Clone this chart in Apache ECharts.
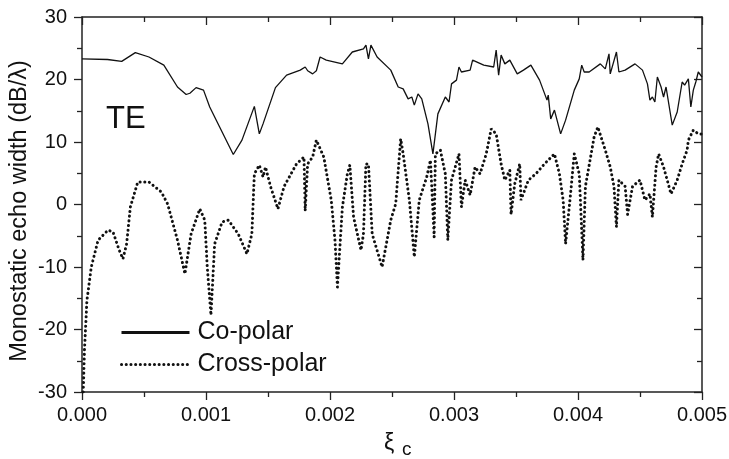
<!DOCTYPE html>
<html><head><meta charset="utf-8">
<script src="https://cdn.jsdelivr.net/npm/echarts@6/dist/echarts.min.js"></script>
<style>html,body{margin:0;padding:0;background:#fff}#c{width:729px;height:459px}</style>
</head><body><div id="c"></div>
<script>
const coX = [0,0.000206,0.00032,0.00043,0.00054,0.00066,0.00077,0.00084,0.00087,0.00092,0.00098,0.00103,0.00111,0.00122,0.00129,0.00139,0.00143,0.00146,0.00156,0.00165,0.00176,0.0018,0.00182,0.00186,0.00189,0.00192,0.00197,0.0021,0.00218,0.00227,0.00229,0.00231,0.00233,0.00238,0.00249,0.00255,0.00259,0.00263,0.00266,0.00268,0.00271,0.00274,0.00279,0.00283,0.00287,0.00293,0.00296,0.00298,0.00302,0.00304,0.00306,0.00313,0.00315,0.00324,0.00332,0.00334,0.00336,0.00338,0.00341,0.00345,0.00351,0.00356,0.00362,0.00369,0.00375,0.00376,0.00378,0.00381,0.00386,0.0039,0.00397,0.00401,0.00403,0.00405,0.00409,0.00418,0.00422,0.00425,0.00426,0.00431,0.00433,0.00438,0.00446,0.00452,0.00456,0.00458,0.0046,0.00462,0.00464,0.00467,0.00469,0.00471,0.00476,0.0048,0.00484,0.00486,0.00489,0.00491,0.00493,0.00495,0.00497,0.005];
const coY = [23.3,23.2,22.9,24.3,23.6,22.3,18.8,17.6,17.8,18.7,18.3,15.6,12.4,8.0,10.3,15.7,11.3,12.9,18.7,20.7,21.5,22.0,21.4,20.9,21.4,23.6,23.1,22.5,24.4,24.9,25.5,23.3,25.5,23.6,21.5,18.8,18.5,16.9,17.2,15.9,17.7,16.9,12.9,8.1,14.5,17.2,16.4,19.3,19.9,22.0,21.2,21.5,23.1,22.3,22.0,24.7,20.7,23.9,22.5,23.1,20.9,21.5,22.3,19.9,16.7,17.5,13.7,15.1,11.3,13.5,18.3,20.1,22.3,21.2,21.2,22.5,21.7,24.1,20.9,24.4,21.2,21.5,22.5,21.5,19.3,16.7,17.2,16.4,20.4,18.8,17.2,18.8,12.7,14.8,19.6,19.1,20.1,15.6,18.3,19.6,21.2,20.4];
const crX = [0.00001,0.00002,0.00004,0.000075,0.00013,0.00021,0.00025,0.0003,0.00033,0.00036,0.00039,0.00045,0.00054,0.00064,0.00069,0.00077,0.00083,0.00088,0.00095,0.00099,0.00101,0.00104,0.00107,0.00113,0.00118,0.00126,0.00133,0.00137,0.00139,0.00143,0.00146,0.00148,0.00152,0.00158,0.00163,0.00173,0.00179,0.0018,0.00182,0.00186,0.00189,0.00195,0.00201,0.00204,0.00206,0.0021,0.00214,0.00216,0.00219,0.00225,0.00227,0.00229,0.00231,0.00234,0.00242,0.00249,0.00253,0.00257,0.00259,0.00264,0.00268,0.00272,0.00278,0.00281,0.00284,0.00285,0.00289,0.00293,0.00295,0.00298,0.00304,0.00306,0.00309,0.00313,0.00317,0.00321,0.00326,0.0033,0.00334,0.00338,0.00341,0.00345,0.00346,0.00349,0.00353,0.00354,0.0036,0.00366,0.00373,0.00381,0.00385,0.00388,0.0039,0.00394,0.00397,0.00401,0.00404,0.00406,0.00413,0.00416,0.00422,0.00426,0.00429,0.00431,0.00433,0.00438,0.0044,0.00444,0.0045,0.00454,0.00458,0.0046,0.00463,0.00465,0.00469,0.00475,0.0048,0.00484,0.00488,0.00489,0.00493,0.00497,0.005];
const crY = [-30,-23.3,-15.3,-10,-5.7,-4.1,-4.4,-7.3,-8.7,-6.3,-0.4,3.6,3.6,2,0.1,-5.7,-11.1,-4.7,-0.7,-2.5,-10,-17.7,-6.3,-2.8,-2.5,-4.7,-7.9,-4.7,4.9,6.3,4.4,6,2.9,-0.7,2.9,6.5,7.6,-1,6.5,7.6,10.3,7.6,0.7,-5.7,-13.2,-0.4,4.9,6.3,-2,-7.3,-4.7,6.5,6.5,-4.7,-10,-2.5,0.1,10.5,8.1,0.7,-8.4,0.7,4.4,7.1,-5.2,8.1,8.7,4.9,-5.7,3.9,8.1,-0.4,3.9,1.5,6,4.9,8.1,12.1,11.3,6.5,3.9,5.5,-1.6,3.3,6.5,0.7,3.9,4.9,6.5,8.1,4.9,0.7,-6.3,1.7,8.1,4.9,-8.9,2.9,10.8,12.4,8.7,6,2.9,-3.6,3.9,2.9,-1.6,2.9,3.9,0.7,1.7,-2,6,8.1,6,1.7,3.9,6.5,8.7,10.3,11.9,11.3,11.3];
const xTicks = ['0.000','0.001','0.002','0.003','0.004','0.005'];

const font = 'Liberation Sans, Arial, sans-serif';
const chart = echarts.init(document.getElementById('c'));
const zip = (a,b)=>a.map((v,i)=>[v,b[i]]);
function ax(inside){
  return {
    axisLine:{show:true,onZero:false,lineStyle:{color:'#222',width:1.5}},
    axisTick:{show:true,inside:inside,length:8,lineStyle:{color:'#222',width:1.3}},
    minorTick:{show:true,splitNumber:2,length:5,lineStyle:{color:'#222',width:1.3}},
    splitLine:{show:false}
  };
}
const dotStyle = {color:'#111',width:3,type:[0.1,4.6],cap:'round'};
chart.setOption({
  animation:false,
  grid:{left:82,right:27,top:17,bottom:67,containLabel:false,outerBoundsMode:'none'},
  xAxis:[
    Object.assign({type:'value',min:0,max:0.005,interval:0.001,position:'bottom',
      axisLabel:{color:'#111',fontSize:20,fontFamily:font,margin:13,formatter:(v)=>xTicks[Math.round(v/0.001)]}
    },ax(false)),
    Object.assign({type:'value',min:0,max:0.005,interval:0.001,position:'top',axisLabel:{show:false}},ax(true))
  ],
  yAxis:[
    Object.assign({type:'value',min:-30,max:30,interval:10,position:'left',
      axisLabel:{color:'#111',fontSize:20,fontFamily:font,margin:15}
    },ax(false)),
    Object.assign({type:'value',min:-30,max:30,interval:10,position:'right',axisLabel:{show:false}},ax(true))
  ],
  legend:{orient:'vertical',left:115,top:315,itemWidth:68,itemHeight:12,itemGap:7,
    itemStyle:{opacity:0},
    textStyle:{fontSize:25,fontFamily:font,color:'#111',padding:[0,0,0,3]},
    data:[{name:'Co-polar',lineStyle:{color:'#111',width:3}},{name:'Cross-polar',lineStyle:dotStyle}]},
  graphic:[
    {type:'text',left:106,top:104,style:{text:'TE',fontSize:31,fontFamily:font,fill:'#111'}},
    {type:'text',x:20,y:211,rotation:Math.PI/2,style:{text:'Monostatic echo width (dB/λ)',fontSize:23.5,fontFamily:font,fill:'#111',align:'center',verticalAlign:'middle'}},
    {type:'text',left:384,top:432,style:{text:'ξ',fontSize:23,fontFamily:font,fill:'#111'}},
    {type:'text',left:402,top:440,style:{text:'c',fontSize:19,fontFamily:font,fill:'#111'}}
  ],
  series:[
    {name:'Co-polar',type:'line',data:zip(coX,coY),showSymbol:false,symbol:'none',
     lineStyle:{color:'#111',width:1.3},itemStyle:{color:'#111'}},
    {name:'Cross-polar',type:'line',data:zip(crX,crY),showSymbol:false,symbol:'none',
     lineStyle:dotStyle,itemStyle:{color:'#111'}}
  ]
});
</script></body></html>
